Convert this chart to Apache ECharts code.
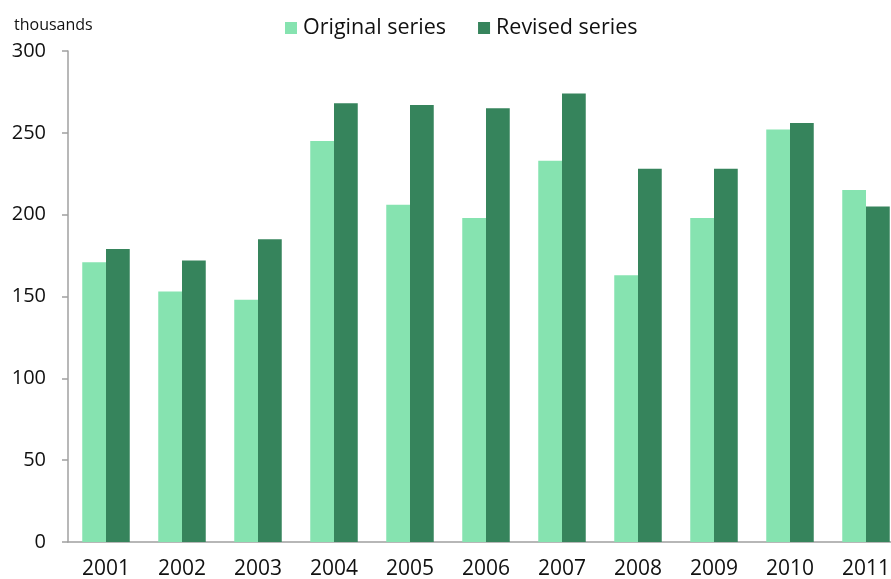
<!DOCTYPE html>
<html>
<head>
<meta charset="utf-8">
<script src="https://cdn.jsdelivr.net/npm/echarts@6/dist/echarts.min.js"></script>
<style>
  html, body { margin: 0; padding: 0; background: #fff; }
  #chart { width: 891px; height: 579px; }
</style>
</head>
<body>
<div id="chart"></div>
<script>
// Annual totals, in thousands
const years = ['2001', '2002', '2003', '2004', '2005', '2006', '2007', '2008', '2009', '2010', '2011'];
const originalSeries = [171, 153, 148, 245, 206, 198, 233, 163, 198, 252, 215];
const revisedSeries = [179, 172, 185, 268, 267, 265, 274, 228, 228, 256, 205];
const yTicks = { min: 0, max: 300, interval: 50 };

const FONT = '"Open Sans", "Noto Sans", sans-serif';
const LIGHT = '#86e3b0';
const DARK = '#36845c';
const AXIS = '#a0a0a0';

const chart = echarts.init(document.getElementById('chart'));
chart.setOption({
  animation: false,
  backgroundColor: '#fff',
  textStyle: { fontFamily: FONT },
  // the plot runs a little past the right edge of the canvas
  grid: { left: 68, width: 836, top: 51, bottom: 37, containLabel: false, outerBoundsMode: 'none' },
  title: {
    text: 'thousands',
    left: 9, top: 12,
    textStyle: { fontFamily: FONT, fontSize: 16, fontWeight: 'normal', color: '#111' }
  },
  legend: {
    top: 17, left: 285, padding: 0,
    itemWidth: 12, itemHeight: 12, itemGap: 32,
    icon: 'rect',
    textStyle: { fontFamily: FONT, fontSize: 21.5, color: '#111', padding: [0, 0, 0, 1] },
    data: ['Original series', 'Revised series']
  },
  xAxis: {
    type: 'category',
    data: years,
    axisLine: { lineStyle: { color: AXIS, width: 1.5 } },
    axisTick: { show: false },
    axisLabel: { fontFamily: FONT, fontSize: 21, color: '#111', margin: 17 }
  },
  yAxis: {
    type: 'value',
    min: yTicks.min, max: yTicks.max, interval: yTicks.interval,
    axisLine: { show: true, lineStyle: { color: AXIS, width: 1.5 } },
    axisTick: { show: true, length: 6, lineStyle: { color: AXIS, width: 1.5 } },
    splitLine: { show: false },
    axisLabel: { fontFamily: FONT, fontSize: 20, color: '#111', margin: 22 }
  },
  series: [
    {
      name: 'Original series', type: 'bar', data: originalSeries,
      itemStyle: { color: LIGHT },
      barGap: '0%', barCategoryGap: '37.5%'
    },
    {
      name: 'Revised series', type: 'bar', data: revisedSeries,
      itemStyle: { color: DARK },
      barGap: '0%', barCategoryGap: '37.5%'
    }
  ]
});
</script>
</body>
</html>
